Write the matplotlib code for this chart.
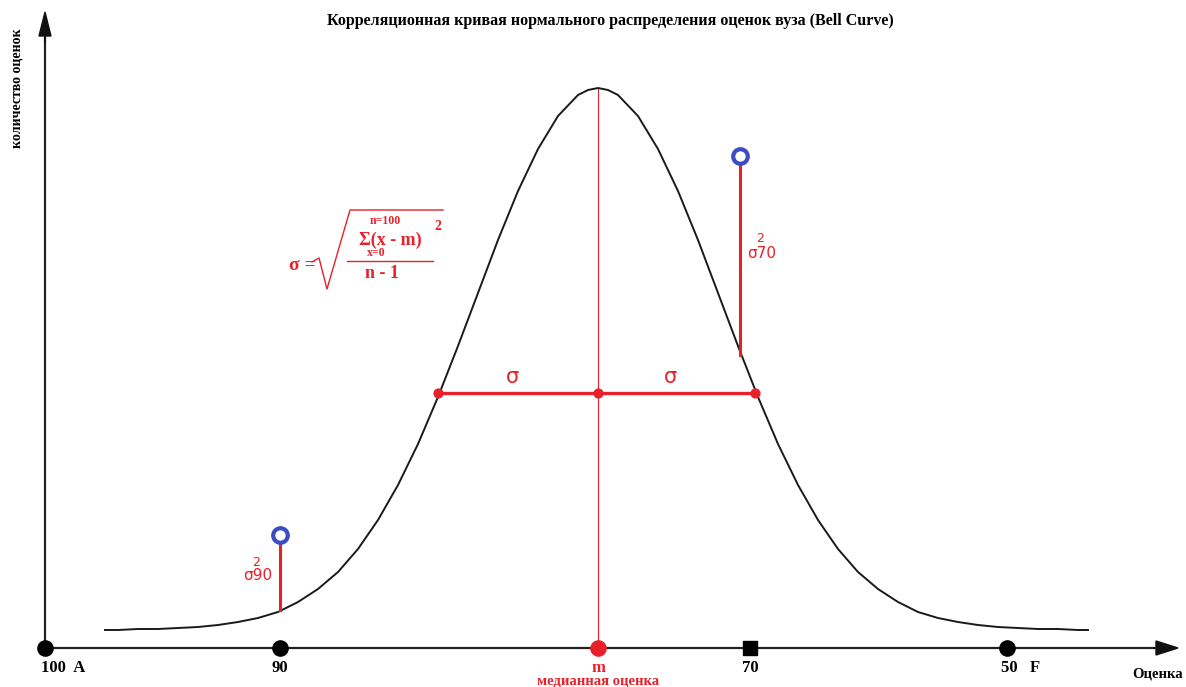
import matplotlib.pyplot as plt
from matplotlib.patches import FancyArrow

# schematic units: x = position along the grade axis, y = number of grades
curve_x = [60, 73, 93, 113, 133, 153, 173, 193, 213, 233, 253, 273, 293,
           313, 333, 353, 373, 393, 413, 433, 453, 473, 493, 513, 533, 543,
           553, 563, 573, 593, 613, 633, 653, 673, 693, 713, 733, 753, 773,
           793, 813, 833, 853, 873, 893, 913, 933, 953, 973, 993, 1013, 1033,
           1043]
curve_y = [18, 18, 19, 19, 20, 21, 23, 26, 30, 36, 46, 59, 76, 99, 128, 163,
           204, 251, 302, 355, 408, 457, 499, 532, 553, 558, 560, 558,
           553, 532, 499, 457, 408, 355, 302, 251, 204, 163, 128, 99, 76,
           59, 46, 36, 30, 26, 23, 21, 20, 19, 19, 18, 18]

tick_pos = [0, 235, 553, 705, 962]
tick_labels = ['100  A', '90', 'm', '70', '50   F']
tick_colors = ['black', 'black', '#e8202a', 'black', 'black']

median_x = 553
median_top = 560
sigma_x = [393, 553, 710]
sigma_y = 255

var_x = [235, 695]
var_top = [113, 492]
var_bottom = [38, 293]
var_labels = ['90', '70']

RED = '#e8202a'
BLUE = '#3d4cc4'
SERIF = 'Liberation Serif'

fig = plt.figure(figsize=(11.86, 6.87), dpi=100)
ax = fig.add_axes([0, 0, 1, 1])
ax.set_xlim(-45, 1141)
ax.set_ylim(-39, 648)
ax.axis('off')

# axes with arrows
ax.plot([0, 1112], [0, 0], color='#222222', lw=1.6, zorder=2)
ax.add_patch(FancyArrow(1108, 0, 25, 0, width=0.1, head_width=14,
                        head_length=22, length_includes_head=True,
                        color='#111111', zorder=3))
ax.plot([0, 0], [0, 610], color='#222222', lw=1.6, zorder=2)
ax.add_patch(FancyArrow(0, 605, 0, 31, width=0.1, head_width=12,
                        head_length=24, length_includes_head=True,
                        color='#111111', zorder=3))

# bell curve
ax.plot(curve_x, curve_y, color='#1a1a1a', lw=1.4, zorder=3,
        solid_joinstyle='round')

# median line
ax.plot([median_x, median_x], [0, median_top], color=RED, lw=0.8, zorder=2)

# sigma segment
ax.plot([sigma_x[0], sigma_x[-1]], [sigma_y, sigma_y], color=RED, lw=2.4,
        zorder=4)
ax.scatter(sigma_x, [sigma_y] * len(sigma_x), s=40, color=RED, zorder=5)
for xa, xb in zip(sigma_x[:-1], sigma_x[1:]):
    ax.text((xa + xb) / 2 - 6, sigma_y + 6, 'σ', color=RED, fontsize=15,
            family='DejaVu Sans', ha='center', va='bottom')

# variance stems
for x, top, bot, lab in zip(var_x, var_top, var_bottom, var_labels):
    ax.plot([x, x], [bot, top - 4], color=RED, lw=2.2, zorder=4)
    ax.scatter([x], [top], s=110, facecolor='white', edgecolor=BLUE,
               linewidth=3, zorder=5)
    if lab == '70':
        tx, ty = x + 22, 395
    else:
        tx, ty = x - 22, 72
    ax.text(tx, ty, 'σ' + lab, color=RED, fontsize=11, ha='center',
            va='center', family='DejaVu Sans')
    ax.text(tx - 2, ty + 14, '2', color=RED, fontsize=9, ha='center',
            va='center', family='DejaVu Sans')

# x-axis points and labels
for pos, lab, col in zip(tick_pos, tick_labels, tick_colors):
    if lab == '70':
        ax.scatter([pos], [0], s=95, color=col, zorder=6, marker='s')
    else:
        ax.scatter([pos], [0], s=120, color=col, zorder=6, marker='o')
    off = 18 if lab.startswith('100') else (14 if lab.startswith('50') else 0)
    ax.text(pos + off, -20, lab, color=col, fontsize=12, fontweight='bold',
            family=SERIF, ha='center', va='center')
ax.text(median_x, -33, 'медианная оценка', color=RED, fontsize=10.5,
        fontweight='bold', family=SERIF, ha='center', va='center')
ax.text(1113, -26, 'Оценка', color='black', fontsize=10.5,
        fontweight='bold', family=SERIF, ha='center', va='center')

# axis title and chart title
ax.text(-28, 560, 'количество оценок', color='black', fontsize=10,
        fontweight='bold', family=SERIF, rotation=90, ha='center',
        va='center')
ax.text(565, 627, 'Корреляционная кривая нормального распределения оценок '
        'вуза (Bell Curve)', color='black', fontsize=11.5, fontweight='bold',
        family=SERIF, ha='center', va='center')

# formula for sigma
ax.text(257, 383, 'σ =', color=RED, fontsize=14, fontweight='bold',
        family=SERIF, ha='center', va='center')
ax.plot([267, 274, 282, 305, 398], [386, 390, 359, 438, 438], color=RED,
        lw=1.0)
ax.plot([302, 388], [387, 387], color=RED, lw=1.0)
ax.text(340, 427, 'n=100', color=RED, fontsize=8.5, fontweight='bold',
        family=SERIF, ha='center', va='center')
ax.text(345, 408, 'Σ(x - m)', color=RED, fontsize=13, fontweight='bold',
        family=SERIF, ha='center', va='center')
ax.text(331, 395, 'x=0', color=RED, fontsize=8.5, fontweight='bold',
        family=SERIF, ha='center', va='center')
ax.text(393, 422, '2', color=RED, fontsize=10, fontweight='bold',
        family=SERIF, ha='center', va='center')
ax.text(337, 374, 'n - 1', color=RED, fontsize=13, fontweight='bold',
        family=SERIF, ha='center', va='center')

fig.savefig('out.png', dpi=100)
